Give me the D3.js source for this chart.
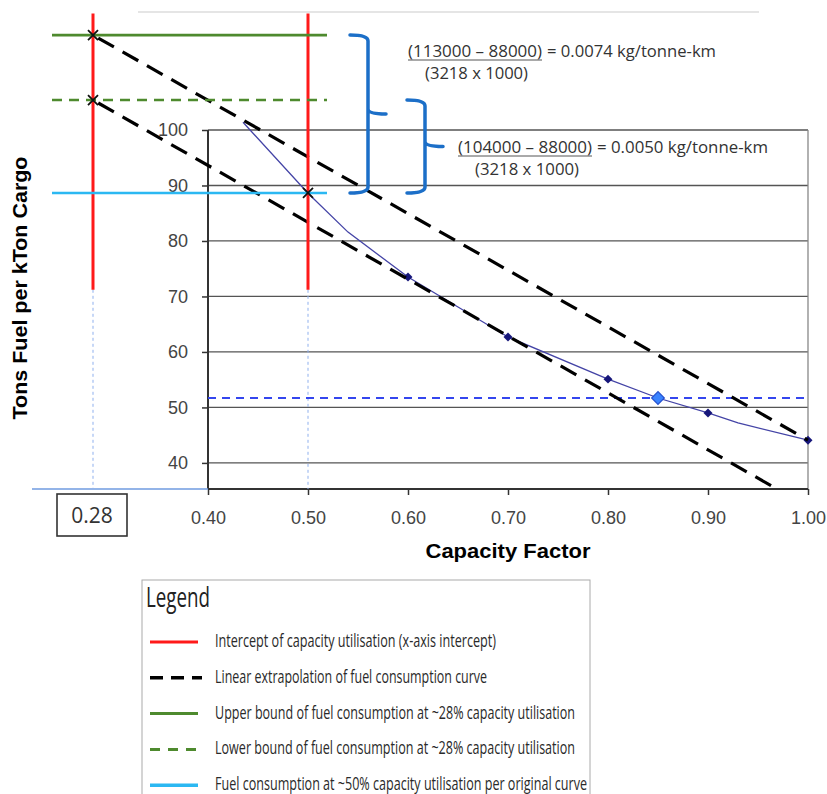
<!DOCTYPE html>
<html>
<head>
<meta charset="utf-8">
<script src="https://cdn.jsdelivr.net/npm/d3@7"></script>
<style>
  body { margin: 0; background: #fff; }
  svg { display: block; }
</style>
</head>
<body>
<div id="chart"></div>
<script>
// fuel consumption curve (capacity factor vs tons fuel per kTon cargo)
var curveX = [0.435, 0.50, 0.54, 0.60, 0.70, 0.80, 0.85, 0.90, 0.93, 1.00];
var curveY = [101.4, 88.6, 81.6, 73.5, 62.7, 55.1, 51.7, 49.0, 47.2, 44.1];
var markerX = [0.60, 0.70, 0.80, 0.90, 1.00];
var markerY = [73.5, 62.7, 55.1, 49.0, 44.1];
var highlight = [0.85, 51.7];
var targetFuel = 51.7;

// extrapolation and bounds
var interceptX = [0.285, 0.50];       // ~28% and 50% capacity
var interceptLabel = '0.28';
var upperBound = 117.1, lowerBound = 105.4, midFuel = 88.65;
var upperLine = [[0.285, 117.1], [1.00, 44.1]];
var lowerLine = [[0.285, 105.4], [0.969, 35.3]];
var redRange = [121, 71.2];
var hLineRange = [0.244, 0.519];

var xTicks = [0.40, 0.50, 0.60, 0.70, 0.80, 0.90, 1.00];
var yTicks = [40, 50, 60, 70, 80, 90, 100];

var legendItems = [
    'Intercept of capacity utilisation (x-axis intercept)',
    'Linear extrapolation of fuel consumption curve',
    'Upper bound of fuel consumption at ~28% capacity utilisation',
    'Lower bound of fuel consumption at ~28% capacity utilisation',
    'Fuel consumption at ~50% capacity utilisation per original curve'
];
var legendWidths = [281, 272, 360, 360, 372];

var red = '#ff1a1a', green = '#4e8a2e', cyan = '#2bb8f2', braceBlue = '#1c6fc8';
var arial = '"Liberation Sans", Arial, sans-serif';
var narrow = '"Liberation Sans Narrow", "Open Sans", sans-serif';

var width = 827, height = 794;
var svg = d3.select('#chart').append('svg')
    .attr('width', width)
    .attr('height', height);

var x = d3.scaleLinear().domain([0.40, 1.00]).range([208, 808]);
var y = d3.scaleLinear().domain([35.3, 100]).range([489, 130]);

// faint top rule
svg.append('line').attr('x1', 138).attr('x2', 759).attr('y1', 12).attr('y2', 12)
    .attr('stroke', '#ddd').attr('stroke-width', 1.5);

// gridlines
svg.append('g').selectAll('line').data(yTicks).join('line')
    .attr('x1', x(0.40)).attr('x2', x(1.00))
    .attr('y1', d => y(d)).attr('y2', d => y(d))
    .attr('stroke', '#555').attr('stroke-width', 1.3);

// right border
svg.append('line').attr('x1', x(1.00)).attr('x2', x(1.00)).attr('y1', y(100)).attr('y2', y(35.3))
    .attr('stroke', '#888').attr('stroke-width', 1.3);

// axes
var yAxis = svg.append('g').attr('transform', 'translate(' + x(0.40) + ',0)')
    .call(d3.axisLeft(y).tickValues(yTicks).tickSize(6).tickPadding(14));
var xAxis = svg.append('g').attr('transform', 'translate(0,' + y(35.3) + ')')
    .call(d3.axisBottom(x).tickValues(xTicks).tickFormat(d3.format('.2f')).tickSize(6).tickPadding(16));
[xAxis, yAxis].forEach(function (a) {
    a.select('.domain').attr('stroke', '#333').attr('stroke-width', 2);
    a.selectAll('.tick line').attr('stroke', '#333').attr('stroke-width', 1.5);
    a.selectAll('.tick text').attr('fill', '#444').style('font-family', arial).style('font-size', '18px');
});
xAxis.select('.domain').attr('d', 'M' + x(0.40) + ',0H' + x(1.00));
yAxis.select('.domain').attr('d', 'M0,' + y(100) + 'V' + y(35.3));

// light blue baseline to the left
svg.append('line').attr('x1', 32).attr('x2', x(0.40)).attr('y1', y(35.3)).attr('y2', y(35.3))
    .attr('stroke', '#6f9be0').attr('stroke-width', 1.5);

// dotted drop lines
svg.append('g').selectAll('line').data(interceptX).join('line')
    .attr('x1', d => x(d)).attr('x2', d => x(d))
    .attr('y1', y(redRange[1])).attr('y2', y(35.3))
    .attr('stroke', '#8fb0ee').attr('stroke-width', 1).attr('stroke-dasharray', '3,3');

// target dashed
svg.append('line').attr('x1', x(0.40)).attr('x2', x(1.00))
    .attr('y1', y(targetFuel)).attr('y2', y(targetFuel))
    .attr('stroke', '#3446ee').attr('stroke-width', 2).attr('stroke-dasharray', '8,6');

// fuel curve
var line = d3.line().x(d => x(d[0])).y(d => y(d[1]));
svg.append('path').datum(d3.zip(curveX, curveY))
    .attr('d', line).attr('fill', 'none')
    .attr('stroke', '#4444a6').attr('stroke-width', 1.3);

var square = d3.symbol().type(d3.symbolSquare);
svg.append('g').selectAll('path').data(d3.zip(markerX, markerY)).join('path')
    .attr('transform', d => 'translate(' + x(d[0]) + ',' + y(d[1]) + ') rotate(45)')
    .attr('d', square.size(40)())
    .attr('fill', '#16167a');
svg.append('path')
    .attr('transform', 'translate(' + x(highlight[0]) + ',' + y(highlight[1]) + ') rotate(45)')
    .attr('d', square.size(80)())
    .attr('fill', '#3a84ff').attr('stroke', '#2350d0').attr('stroke-width', 1.2);

// extrapolation lines
svg.append('g').selectAll('path').data([upperLine, lowerLine]).join('path')
    .attr('d', line).attr('fill', 'none')
    .attr('stroke', '#000').attr('stroke-width', 3.2).attr('stroke-dasharray', '18,10')
    .attr('stroke-dashoffset', -6);

// red intercept lines
svg.append('g').selectAll('line').data(interceptX).join('line')
    .attr('x1', d => x(d)).attr('x2', d => x(d))
    .attr('y1', y(redRange[0])).attr('y2', y(redRange[1]))
    .attr('stroke', red).attr('stroke-width', 3);

// bound lines
function hline(v, color, dash) {
    svg.append('line').attr('x1', x(hLineRange[0])).attr('x2', x(hLineRange[1]))
        .attr('y1', y(v)).attr('y2', y(v))
        .attr('stroke', color).attr('stroke-width', 2.6)
        .attr('stroke-dasharray', dash);
}
hline(upperBound, green, null);
hline(lowerBound, green, '10,7');
hline(midFuel, cyan, null);

// x marks
var crosses = [[interceptX[0], upperBound], [interceptX[0], lowerBound], [interceptX[1], midFuel]];
svg.append('g').selectAll('path').data(crosses).join('path')
    .attr('transform', d => 'translate(' + x(d[0]) + ',' + y(d[1]) + ')')
    .attr('d', 'M-5,-5L5,5M-5,5L5,-5')
    .attr('stroke', '#111').attr('stroke-width', 1.8);

// braces
function brace(bx, top, bottom, w) {
    var t = y(top), b = y(bottom), m = (t + b) / 2, cx = x(bx);
    var p = 'M' + (cx - w) + ',' + t + 'Q' + cx + ',' + t + ' ' + cx + ',' + (t + 6) +
        'L' + cx + ',' + (m - 5) + 'Q' + cx + ',' + m + ' ' + (cx + w) + ',' + m +
        'M' + cx + ',' + (m - 5) + 'Q' + cx + ',' + m + ' ' + cx + ',' + (m + 5) +
        'L' + cx + ',' + (b - 6) + 'Q' + cx + ',' + b + ' ' + (cx - w) + ',' + b;
    svg.append('path').attr('d', p).attr('fill', 'none')
        .attr('stroke', braceBlue).attr('stroke-width', 3.5).attr('stroke-linecap', 'round');
}
brace(0.560, upperBound, midFuel, 18);
brace(0.617, lowerBound, midFuel, 18);

// annotation text
function formula(x0, base, num, numW, rest, restW, den, denW) {
    var g = svg.append('g').style('font-family', narrow).style('font-size', '16px').attr('fill', '#333');
    g.append('text').attr('x', x0).attr('y', base).text(num)
        .attr('textLength', numW).attr('lengthAdjust', 'spacingAndGlyphs');
    g.append('line').attr('x1', x0).attr('x2', x0 + numW).attr('y1', base + 3).attr('y2', base + 3)
        .attr('stroke', '#555').attr('stroke-width', 1);
    g.append('text').attr('x', x0 + numW + 5).attr('y', base).text(rest)
        .attr('textLength', restW).attr('lengthAdjust', 'spacingAndGlyphs');
    g.append('text').attr('x', x0 + 17).attr('y', base + 22).text(den)
        .attr('textLength', denW).attr('lengthAdjust', 'spacingAndGlyphs');
}
formula(408, 57, '(113000 \u2013 88000)', 134, '= 0.0074 kg/tonne-km', 169, '(3218 x 1000)', 103);
formula(458, 153, '(104000 \u2013 88000)', 134, '= 0.0050 kg/tonne-km', 171, '(3218 x 1000)', 104);

// 0.28 box
svg.append('rect').attr('x', x(interceptX[0]) - 36).attr('y', 494).attr('width', 70).attr('height', 42)
    .attr('fill', '#fff').attr('stroke', '#333').attr('stroke-width', 1.6);
svg.append('text').attr('x', x(interceptX[0]) - 1).attr('y', 523).attr('text-anchor', 'middle')
    .style('font-family', '"Open Sans", sans-serif').style('font-size', '21px').attr('fill', '#333')
    .text(interceptLabel);

// axis titles
svg.append('text').attr('x', 508).attr('y', 558).attr('text-anchor', 'middle')
    .style('font-family', arial).style('font-size', '21px').style('font-weight', 'bold')
    .attr('textLength', 165).attr('lengthAdjust', 'spacingAndGlyphs')
    .text('Capacity Factor');
svg.append('text').attr('transform', 'translate(27,288) rotate(-90)').attr('text-anchor', 'middle')
    .style('font-family', arial).style('font-size', '20px').style('font-weight', 'bold')
    .attr('textLength', 263).attr('lengthAdjust', 'spacingAndGlyphs')
    .text('Tons Fuel per kTon Cargo');

// legend
var lg = svg.append('g');
lg.append('rect').attr('x', 142).attr('y', 580).attr('width', 448).attr('height', 230)
    .attr('fill', '#fff').attr('stroke', '#aaa').attr('stroke-width', 1);
lg.append('text').attr('x', 146).attr('y', 607).text('Legend')
    .style('font-family', narrow).style('font-size', '28px').attr('fill', '#222')
    .attr('textLength', 64).attr('lengthAdjust', 'spacingAndGlyphs');
var swatch = [
    { color: red, dash: null, w: 3, x2: 198 },
    { color: '#000', dash: '13,8', w: 3.5, x2: 202 },
    { color: green, dash: null, w: 3, x2: 198 },
    { color: green, dash: '10,8', w: 3, x2: 198 },
    { color: cyan, dash: null, w: 3.5, x2: 198 }
];
var rows = lg.selectAll('g.row').data(legendItems).join('g')
    .attr('class', 'row')
    .attr('transform', (d, i) => 'translate(0,' + (642 + i * 35.8) + ')');
rows.append('line').attr('x1', 150).attr('x2', (d, i) => swatch[i].x2).attr('y1', 0).attr('y2', 0)
    .attr('stroke', (d, i) => swatch[i].color)
    .attr('stroke-width', (d, i) => swatch[i].w)
    .attr('stroke-dasharray', (d, i) => swatch[i].dash);
rows.append('text').attr('x', 215).attr('y', 5).text(d => d)
    .style('font-family', narrow).style('font-size', '17.5px').attr('fill', '#2a2a2a')
    .attr('textLength', (d, i) => legendWidths[i]).attr('lengthAdjust', 'spacingAndGlyphs');
</script>
</body>
</html>
